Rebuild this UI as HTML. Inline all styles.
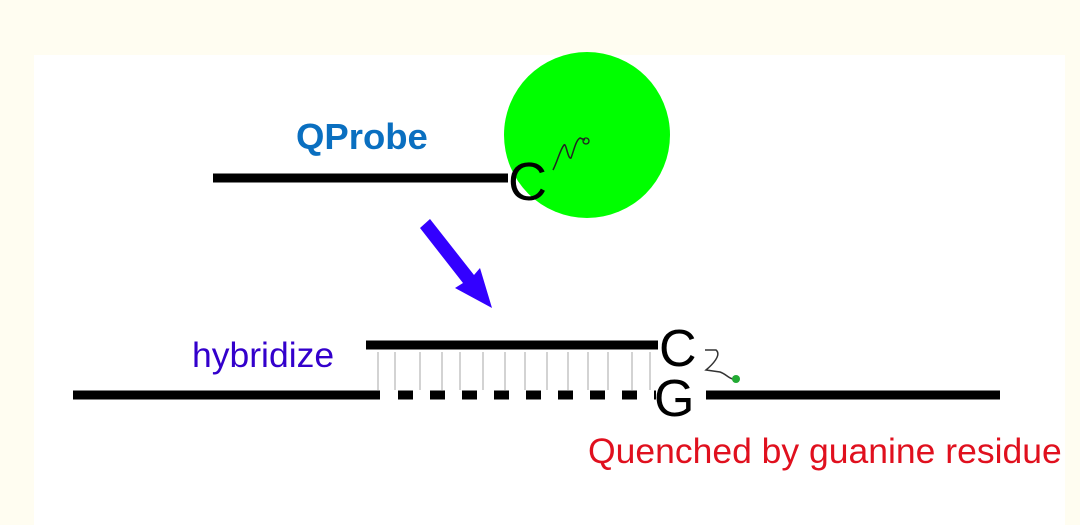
<!DOCTYPE html>
<html><head><style>
html,body{margin:0;padding:0;background:#fffdf1;width:1080px;height:525px;overflow:hidden}
</style></head><body>
<svg width="1080" height="525" xmlns="http://www.w3.org/2000/svg" style="position:absolute;left:0;top:0">
<rect x="34" y="55" width="1031" height="470" fill="#ffffff"/>
<circle cx="587" cy="135" r="83" fill="#00ff00"/>
<line x1="213" y1="178" x2="508" y2="178" stroke="#000" stroke-width="9"/>
<text x="508" y="200" font-family="Liberation Sans, sans-serif" font-size="54" fill="#000">C</text>
<path d="M553 170 C558 160 560 150 564 145 C566 142 568 160 571 158 C574 150 576 140 580 138 L585 140" stroke="#222" stroke-width="1.5" fill="none"/>
<circle cx="586" cy="141" r="3" fill="none" stroke="#222" stroke-width="1.3"/>
<text x="296" y="149" font-family="Liberation Sans, sans-serif" font-size="36.5" font-weight="bold" fill="#0a6fc0">QProbe</text>
<polygon points="420,228 430,219 474,275 480,268 492,308 455,288 463,283" fill="#3300ff"/>
<text x="192" y="367" font-family="Liberation Sans, sans-serif" font-size="35.5" fill="#3300cc">hybridize</text>
<line x1="366" y1="345" x2="658" y2="345" stroke="#000" stroke-width="9"/>
<g stroke="#bbb" stroke-width="1.3">
<line x1="378" y1="352" x2="378" y2="390"/><line x1="395" y1="352" x2="395" y2="390"/><line x1="420" y1="352" x2="420" y2="390"/><line x1="442" y1="352" x2="442" y2="390"/><line x1="460" y1="352" x2="460" y2="390"/><line x1="483" y1="352" x2="483" y2="390"/><line x1="505" y1="352" x2="505" y2="390"/><line x1="525" y1="352" x2="525" y2="390"/><line x1="547" y1="352" x2="547" y2="390"/><line x1="568" y1="352" x2="568" y2="390"/><line x1="588" y1="352" x2="588" y2="390"/><line x1="608" y1="352" x2="608" y2="390"/><line x1="632" y1="352" x2="632" y2="390"/><line x1="650" y1="352" x2="650" y2="390"/>
</g>
<line x1="73" y1="395" x2="380" y2="395" stroke="#000" stroke-width="9"/>
<line x1="398" y1="395" x2="656" y2="395" stroke="#000" stroke-width="9" stroke-dasharray="15,17"/>
<text x="659" y="366" font-family="Liberation Sans, sans-serif" font-size="52" fill="#000">C</text>
<text x="654" y="416" font-family="Liberation Sans, sans-serif" font-size="52" fill="#000">G</text>
<line x1="706" y1="395" x2="1000" y2="395" stroke="#000" stroke-width="9"/>
<path d="M705 350 L716 350 C722 355 712 365 706 370 L720 372 C726 374 728 378 733 379" stroke="#333" stroke-width="1.5" fill="none"/>
<circle cx="736" cy="379" r="4" fill="#22aa33"/>
<text x="588" y="463" font-family="Liberation Sans, sans-serif" font-size="35.5" fill="#e0101e">Quenched by guanine residue</text>
</svg>
</body></html>
